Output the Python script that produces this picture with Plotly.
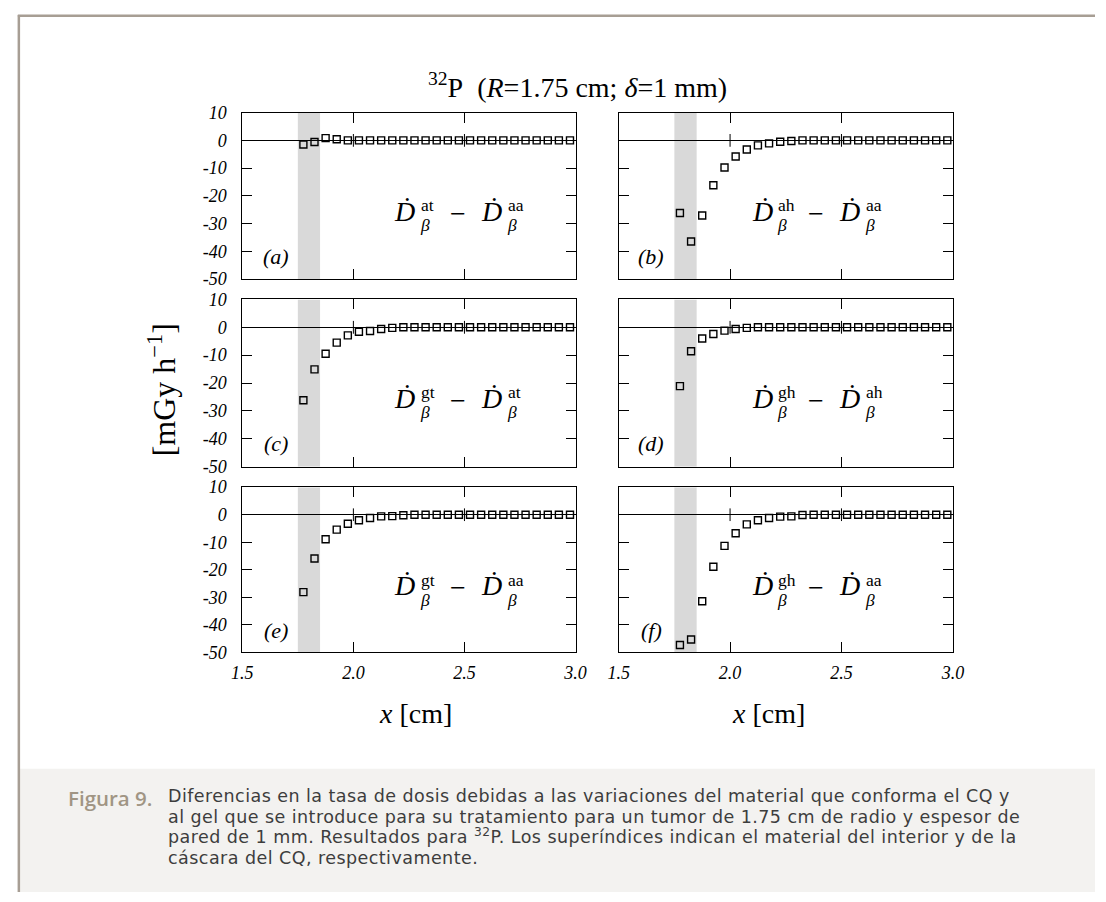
import plotly.graph_objects as go

W, H = 1106, 902

# ---------------- data ----------------
X_CM = [1.775, 1.825, 1.875, 1.925, 1.975, 2.025, 2.075, 2.125, 2.175, 2.225,
        2.275, 2.325, 2.375, 2.425, 2.475, 2.525, 2.575, 2.625, 2.675, 2.725,
        2.775, 2.825, 2.875, 2.925, 2.975]

DIFF_A = [-1.5, -0.6, 0.8, 0.4, 0.0, 0.0, 0.0, 0.0, 0.0, 0.0,
          0.0, 0.0, 0.0, 0.0, 0.0, 0.0, 0.0, 0.0, 0.0, 0.0,
          0.0, 0.0, 0.0, 0.0, 0.0]
DIFF_B = [-26.2, -36.5, -27.1, -16.2, -9.8, -5.8, -3.3, -1.8, -1.1, -0.5,
          -0.2, 0.0, 0.0, 0.0, 0.0, 0.0, 0.0, 0.0, 0.0, 0.0,
          0.0, 0.0, 0.0, 0.0, 0.0]
DIFF_C = [-26.2, -15.1, -9.5, -5.5, -2.9, -1.6, -1.3, -0.6, -0.2, 0.0,
          0.0, 0.0, 0.0, 0.0, 0.0, 0.0, 0.0, 0.0, 0.0, 0.0,
          0.0, 0.0, 0.0, 0.0, 0.0]
DIFF_D = [-21.1, -8.6, -4.0, -2.4, -1.2, -0.6, -0.2, 0.0, 0.0, 0.0,
          0.0, 0.0, 0.0, 0.0, 0.0, 0.0, 0.0, 0.0, 0.0, 0.0,
          0.0, 0.0, 0.0, 0.0, 0.0]
DIFF_E = [-28.1, -15.9, -8.9, -5.4, -3.3, -2.0, -1.2, -0.6, -0.5, -0.2,
          0.0, 0.0, 0.0, 0.0, 0.0, 0.0, 0.0, 0.0, 0.0, 0.0,
          0.0, 0.0, 0.0, 0.0, 0.0]
DIFF_F = [-47.3, -45.3, -31.4, -18.9, -11.3, -6.7, -3.5, -2.0, -1.2, -0.7,
          -0.6, -0.1, 0.0, 0.0, 0.0, 0.0, 0.0, 0.0, 0.0, 0.0,
          0.0, 0.0, 0.0, 0.0, 0.0]

SERIES = [DIFF_A, DIFF_B, DIFF_C, DIFF_D, DIFF_E, DIFF_F]
PANEL_LABELS = ["(a)", "(b)", "(c)", "(d)", "(e)", "(f)"]
SUP_FIRST = ["at", "ah", "gt", "gh", "gt", "gh"]
SUP_SECOND = ["aa", "aa", "at", "ah", "aa", "aa"]

SHELL_START = 1.75   # tumour radius R [cm]
SHELL_END = 1.85     # R + wall thickness

X_RANGE = [1.5, 3.0]
Y_RANGE = [-50, 10]
X_TICKS = [1.5, 2.0, 2.5, 3.0]
X_TICK_TEXT = ["1.5", "2.0", "2.5", "3.0"]
Y_TICKS = [10, 0, -10, -20, -30, -40, -50]
Y_TICK_TEXT = ["10", "0", "-10", "-20", "-30", "-40", "-50"]

TITLE = "<sup>32</sup>P\u00a0 (<i>R</i>=1.75 cm; <i>δ</i>=1 mm)"
Y_TITLE = "[mGy h<sup>−1</sup>]"
X_TITLE = "<i>x</i> [cm]"
CAPTION_HEAD = "Figura 9."
CAPTION_LINES = [
    "Diferencias en la tasa de dosis debidas a las variaciones del material que conforma el CQ y",
    "al gel que se introduce para su tratamiento para un tumor de 1.75 cm de radio y espesor de",
    "pared de 1 mm. Resultados para <sup>32</sup>P. Los superíndices indican el material del interior y de la",
    "cáscara del CQ, respectivamente.",
]

# ---------------- layout helpers (pixels -> paper) ----------------
def px(x):
    return x / W


def py(y):
    return 1 - y / H


COL_PX = [(236, 576), (620, 961)]
ROW_PX = [(105, 275), (296, 467), (488, 657)]

SERIF = "Liberation Serif, Times New Roman, serif"
tick_font = dict(family=SERIF, size=18, color="black", style="italic")

fig = go.Figure()
annotations = []
shapes = []

for i, ys in enumerate(SERIES):
    r, c = divmod(i, 2)
    n = i + 1
    xa = "x" if n == 1 else f"x{n}"
    ya = "y" if n == 1 else f"y{n}"
    fig.add_trace(go.Scatter(
        x=X_CM, y=ys, mode="markers", xaxis=xa, yaxis=ya,
        marker=dict(symbol="square-open", size=7, color="black",
                    line=dict(color="black", width=1.4)),
        showlegend=False, hoverinfo="x+y"))

    x0p, x1p = COL_PX[c]
    y0p, y1p = ROW_PX[r]
    axis_common = dict(showline=True, linecolor="black", linewidth=1, mirror="ticks",
                       ticks="inside", ticklen=10, tickwidth=1, tickcolor="black",
                       showgrid=False, tickfont=tick_font)
    fig.layout[f"xaxis{n}" if n > 1 else "xaxis"] = dict(
        domain=[px(x0p), px(x1p)], range=X_RANGE, anchor=ya,
        tickvals=X_TICKS, ticktext=X_TICK_TEXT, showticklabels=(r == 2),
        zeroline=False, ticklabelstandoff=4, **axis_common)
    fig.layout[f"yaxis{n}" if n > 1 else "yaxis"] = dict(
        domain=[py(y1p), py(y0p)], range=Y_RANGE, anchor=xa,
        tickvals=Y_TICKS, ticktext=Y_TICK_TEXT, showticklabels=(c == 0),
        zeroline=True, zerolinecolor="black", zerolinewidth=1,
        ticklabelstandoff=11, **axis_common)

    # shell (wall) band
    shapes.append(dict(type="rect", xref=xa, yref=ya, x0=SHELL_START, x1=SHELL_END,
                       y0=Y_RANGE[0], y1=Y_RANGE[1], fillcolor="#d9d9d9",
                       line=dict(width=0), layer="below"))
    # tics on the zero axis
    for xv in X_TICKS[1:-1]:
        shapes.append(dict(type="line", xref=xa, yref=ya, x0=xv, x1=xv,
                           y0=-2.3, y1=2.3, line=dict(color="black", width=1)))

    # panel letter
    dx = c * 383
    dy = y0p - ROW_PX[0][0]
    annotations.append(dict(x=px(270 + dx), y=py(252 + dy), xref="paper", yref="paper",
                            text=f"<i>{PANEL_LABELS[i]}</i>", showarrow=False,
                            font=dict(family=SERIF, size=22, color="black"),
                            xanchor="center", yanchor="middle"))

    # formula  D^sup1_beta - D^sup2_beta  (sup/sub stacked in one text)
    fx = c * 365
    big = dict(family=SERIF, size=28, color="black")
    stack_font = dict(family=SERIF, size=15, color="black")
    for txt, xx, yy, anc in [
        ("<i>Ḋ</i>", 412, 206, "right"),
        ("−", 456, 208, "center"),
        ("<i>Ḋ</i>", 501, 206, "right"),
    ]:
        annotations.append(dict(x=px(xx + fx), y=py(yy + dy), xref="paper", yref="paper",
                                text=txt, showarrow=False, font=big, borderwidth=0,
                                xanchor=anc, yanchor="middle", borderpad=0))
    for sup, xx in [(SUP_FIRST[i], 417), (SUP_SECOND[i], 506)]:
        annotations.append(dict(
            x=px(xx + fx), y=py(210 + dy), xref="paper", yref="paper",
            text=(f'<span style="font-size:17.5px">{sup}</span><br>'
                  f'<span style="font-size:17.5px"><i>β</i></span>'),
            align="left", showarrow=False, font=stack_font, borderpad=0, borderwidth=0,
            xanchor="left", yanchor="middle"))

# titles
annotations.append(dict(x=px(578), y=py(77), xref="paper", yref="paper", text=TITLE,
                        showarrow=False, font=dict(family=SERIF, size=28, color="black"),
                        xanchor="center", yanchor="middle"))
annotations.append(dict(x=px(154), y=py(388), xref="paper", yref="paper", text=Y_TITLE,
                        showarrow=False, textangle=-90,
                        font=dict(family=SERIF, size=32, color="black"),
                        xanchor="center", yanchor="middle"))
for c in range(2):
    cx = [413, 773][c]
    annotations.append(dict(x=px(cx), y=py(719), xref="paper", yref="paper", text=X_TITLE,
                            showarrow=False, font=dict(family=SERIF, size=28, color="black"),
                            xanchor="center", yanchor="middle"))

# frame + caption box
shapes.append(dict(type="rect", xref="paper", yref="paper", x0=px(9), x1=1.0,
                   y0=0, y1=py(776), fillcolor="#f3f2f0", line=dict(width=0), layer="below"))
shapes.append(dict(type="line", xref="paper", yref="paper", x0=px(7), x1=1.0,
                   y0=py(6), y1=py(6), line=dict(color="#a79e94", width=2.5)))
shapes.append(dict(type="line", xref="paper", yref="paper", x0=px(8), x1=px(8),
                   y0=py(5), y1=0, line=dict(color="#a79e94", width=2.5)))

annotations.append(dict(x=px(56), y=py(806), xref="paper", yref="paper", text=CAPTION_HEAD,
                        showarrow=False,
                        font=dict(family="Open Sans, sans-serif", size=20.5,
                                  color="#a09584", weight=600),
                        xanchor="left", yanchor="middle"))
span = '<span style="font-size:17.5px;letter-spacing:0.45px">'
caption_body = "<br>".join(f"{span}{ln}</span>" for ln in CAPTION_LINES)
annotations.append(dict(x=px(158), y=py(836), xref="paper", yref="paper",
                        text=caption_body, align="left", showarrow=False,
                        font=dict(family="DejaVu Sans, sans-serif", size=15.8,
                                  color="#3d3d3d"),
                        xanchor="left", yanchor="middle"))

fig.update_layout(width=W, height=H, margin=dict(l=0, r=0, t=0, b=0),
                  paper_bgcolor="white", plot_bgcolor="white",
                  annotations=annotations, shapes=shapes, showlegend=False)

fig.write_html("out.html", config={"displayModeBar": False},
               post_script="document.body.style.margin='0';document.body.style.overflow='hidden';")
